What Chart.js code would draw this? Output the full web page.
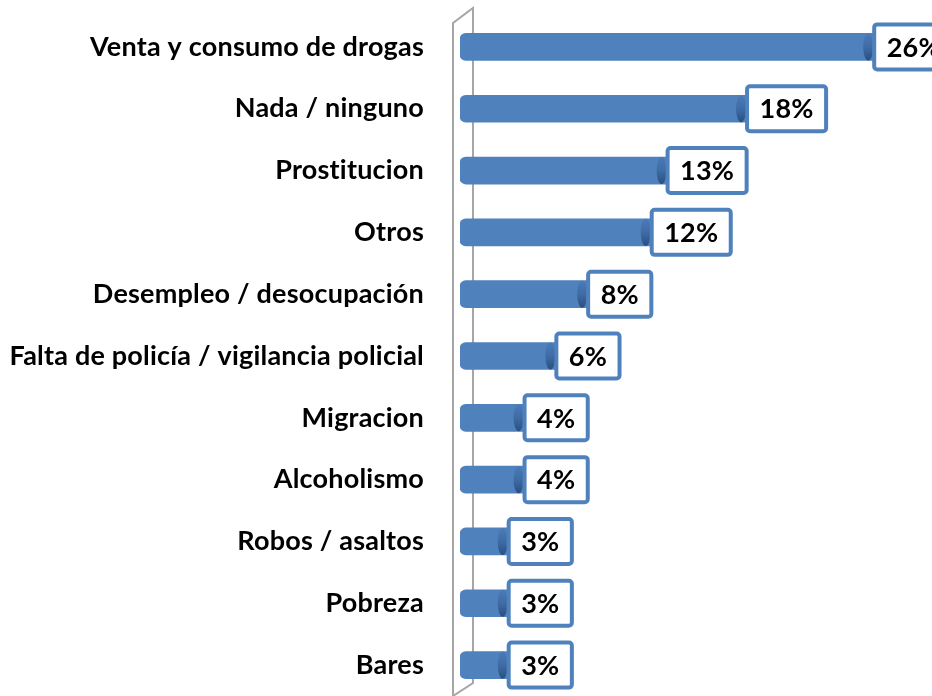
<!DOCTYPE html>
<html>
<head>
<meta charset="utf-8">
<script src="https://cdn.jsdelivr.net/npm/chart.js@4.4.1/dist/chart.umd.min.js"></script>
<style>
  html, body { margin: 0; padding: 0; background: #fff; overflow: hidden; }
  canvas { display: block; }
</style>
</head>
<body>
<canvas id="chart" width="932" height="696"></canvas>
<script>
const categories = [
  'Venta y consumo de drogas',
  'Nada / ninguno',
  'Prostitucion',
  'Otros',
  'Desempleo / desocupación',
  'Falta de policía / vigilancia policial',
  'Migracion',
  'Alcoholismo',
  'Robos / asaltos',
  'Pobreza',
  'Bares'
];
const percentValues = [26, 18, 13, 12, 8, 6, 4, 4, 3, 3, 3];
const valueLabels = ['26%', '18%', '13%', '12%', '8%', '6%', '4%', '4%', '3%', '3%', '3%'];

const FONT = 'Lato, "Open Sans", sans-serif';

// no "ti" ligatures in the labels
const noLigatures = {
  id: 'noLigatures',
  beforeDraw(chart) {
    chart.ctx.letterSpacing = '0.2px';
  }
};

// gray 3d wall behind the bars
const wallPlugin = {
  id: 'wall',
  beforeDatasetsDraw(chart) {
    const { ctx, chartArea } = chart;
    const x0 = chart.scales.x.getPixelForValue(0);
    const back = x0 - 7, front = x0 + 13;
    ctx.save();
    ctx.strokeStyle = '#a6a6a6';
    ctx.lineWidth = 2;
    ctx.beginPath();
    ctx.moveTo(back, chartArea.bottom + 2);
    ctx.lineTo(back, chartArea.top + 7);
    ctx.lineTo(front, chartArea.top - 8);
    ctx.lineTo(front, chartArea.bottom - 13);
    ctx.lineTo(back, chartArea.bottom);
    ctx.stroke();
    ctx.restore();
  }
};

// cylinder end caps + boxed value labels
const capsAndLabels = {
  id: 'capsAndLabels',
  afterDatasetsDraw(chart) {
    const { ctx } = chart;
    const meta = chart.getDatasetMeta(0);
    meta.data.forEach((bar, i) => {
      const h = bar.height;
      const endX = bar.x;
      const top = bar.y - h / 2;
      // end cap
      const g = ctx.createLinearGradient(0, top, 0, top + h);
      g.addColorStop(0, '#4a7ab8');
      g.addColorStop(0.5, '#3f6ca6');
      g.addColorStop(1, '#2a4f80');
      ctx.save();
      ctx.fillStyle = g;
      ctx.beginPath();
      ctx.ellipse(endX - 5, bar.y, 5, h / 2, 0, 0, Math.PI * 2);
      ctx.fill();
      ctx.restore();

      // label box
      ctx.save();
      ctx.font = 'bold 27px ' + FONT;
      const txt = valueLabels[i];
      const tw = ctx.measureText(txt).width;
      const bw = tw + 25, bh = 45;
      const bx = endX + 1, by = bar.y - bh / 2;
      ctx.fillStyle = '#ffffff';
      ctx.strokeStyle = '#4f81bd';
      ctx.lineWidth = 4;
      ctx.beginPath();
      ctx.roundRect(bx, by, bw, bh, 3);
      ctx.fill();
      ctx.stroke();
      ctx.fillStyle = '#000';
      ctx.textAlign = 'center';
      ctx.textBaseline = 'middle';
      ctx.fillText(txt, bx + bw / 2, bar.y + 1);
      ctx.restore();
    });
  }
};

new Chart(document.getElementById('chart'), {
  type: 'bar',
  data: {
    labels: categories,
    datasets: [{
      data: percentValues,
      barThickness: 27,
      borderSkipped: false,
      borderRadius: { topLeft: 6, bottomLeft: 6, topRight: 0, bottomRight: 0 },
      backgroundColor: (c) => {
        const el = c.element;
        if (!c.chart.chartArea || !el || el.y === undefined) return '#4f81bd';
        const top = el.y - 13.5;
        const g = c.chart.ctx.createLinearGradient(0, top, 0, top + 27);
        g.addColorStop(0, '#4a7dbd');
        g.addColorStop(0.35, '#5b91d6');
        g.addColorStop(0.7, '#4677b6');
        g.addColorStop(1, '#2c5487');
        return g;
      }
    }]
  },
  options: {
    indexAxis: 'y',
    responsive: false,
    animation: false,
    layout: { padding: { top: 16, right: 0, bottom: 0, left: 0 } },
    plugins: {
      legend: { display: false },
      tooltip: { enabled: false }
    },
    scales: {
      x: {
        min: 0,
        max: 29.7,
        display: false
      },
      y: {
        grid: { display: false, drawTicks: false },
        border: { display: false },
        afterFit: (scale) => {
          scale.width = 460;
          scale.paddingTop = 0;
          scale.paddingBottom = 0;
        },
        ticks: {
          padding: 36,
          color: '#000',
          font: { family: FONT, size: 27, weight: 'bold' }
        }
      }
    }
  },
  plugins: [noLigatures, wallPlugin, capsAndLabels]
});
</script>
</body>
</html>
